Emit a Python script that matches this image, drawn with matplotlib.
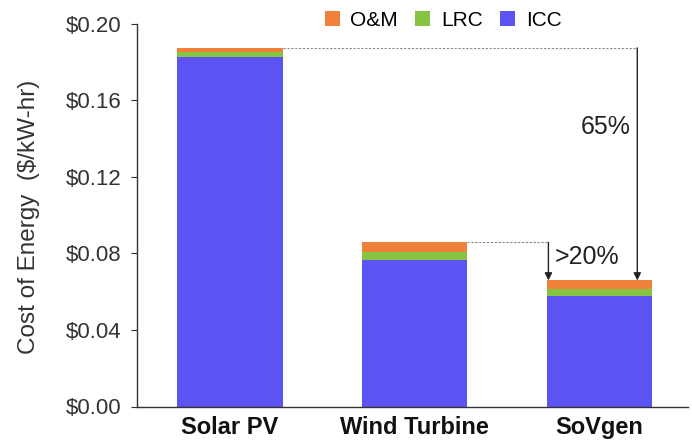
import matplotlib
matplotlib.use("Agg")
import matplotlib.pyplot as plt
import numpy as np

plt.rcParams['font.family'] = ['Liberation Sans', 'DejaVu Sans']

categories = ["Solar PV", "Wind Turbine", "SoVgen"]
icc = [0.183, 0.0767, 0.0579]
lrc = [0.0025, 0.0043, 0.0036]
om = [0.0020, 0.0048, 0.0044]
yticks = [0.00, 0.04, 0.08, 0.12, 0.16, 0.20]
ytick_labels = ["$0.00", "$0.04", "$0.08", "$0.12", "$0.16", "$0.20"]

c_icc = "#5B54F2"
c_lrc = "#86C441"
c_om = "#F0813A"

fig = plt.figure(figsize=(6.92, 4.42), dpi=100)
ax = fig.add_axes([137/692, 1-406.5/442, (688-137)/692, (406.5-24)/442])

x = np.arange(len(categories))
w = 0.57
icc_a = np.array(icc); lrc_a = np.array(lrc); om_a = np.array(om)
b1 = ax.bar(x, icc_a, w, color=c_icc, label="ICC")
b2 = ax.bar(x, lrc_a, w, bottom=icc_a, color=c_lrc, label="LRC")
b3 = ax.bar(x, om_a, w, bottom=icc_a + lrc_a, color=c_om, label="O&M")

ax.set_xlim(-0.503, 2.48)
ax.set_ylim(0, 0.2)
ax.set_yticks(yticks)
ax.set_yticklabels(ytick_labels, fontsize=16, color="#333333")
ax.set_xticks(x)
ax.set_xticklabels(categories, fontsize=17, fontweight="bold", color="#111111")
ax.tick_params(axis='x', length=0, pad=7)
ax.tick_params(axis='y', length=4, direction='out', color="#333333", pad=7)
for s in ["top", "right"]:
    ax.spines[s].set_visible(False)
for s in ["left", "bottom"]:
    ax.spines[s].set_color("#333333")
    ax.spines[s].set_linewidth(1.0)
fig.text(29/692, 1-217/442, "Cost of Energy  ($/kW-hr)", rotation=90, ha="center", va="center",
         fontsize=17.5, color="#333333")

totals = icc_a + lrc_a + om_a
# annotation lines
x65 = 2 + (637 - 599) / 185
x20 = 2 + (548 - 599) / 185
ax.plot([0 + w/2, x65], [totals[0], totals[0]], linestyle=(0, (2, 1.5)), color="#888888", lw=0.8)
ax.plot([1 + w/2, x20], [totals[1], totals[1]], linestyle=(0, (2, 1.5)), color="#888888", lw=0.8)
ax.annotate("", xy=(x65, totals[2]), xytext=(x65, totals[0]),
            arrowprops=dict(arrowstyle="-|>", color="#222222", lw=1.0, mutation_scale=11,
                            shrinkA=0, shrinkB=0))
ax.annotate("", xy=(x20, totals[2]), xytext=(x20, totals[1]),
            arrowprops=dict(arrowstyle="-|>", color="#222222", lw=1.0, mutation_scale=11,
                            shrinkA=0, shrinkB=0))
ax.text(x65 - 0.035, 0.146, "65%", ha="right", va="center", fontsize=18, color="#222222")
ax.text(x20 + 0.035, 0.0783, ">20%", ha="left", va="center", fontsize=18, color="#222222")

handles = [b3, b2, b1]
fig.legend(handles, ["O&M", "LRC", "ICC"], loc="center", bbox_to_anchor=(443/692, 1-20/442),
           ncol=3, frameon=False, fontsize=15, handlelength=0.72, handleheight=0.72,
           handletextpad=0.5, columnspacing=0.85, borderpad=0.1)

fig.savefig("out.png", dpi=100)
